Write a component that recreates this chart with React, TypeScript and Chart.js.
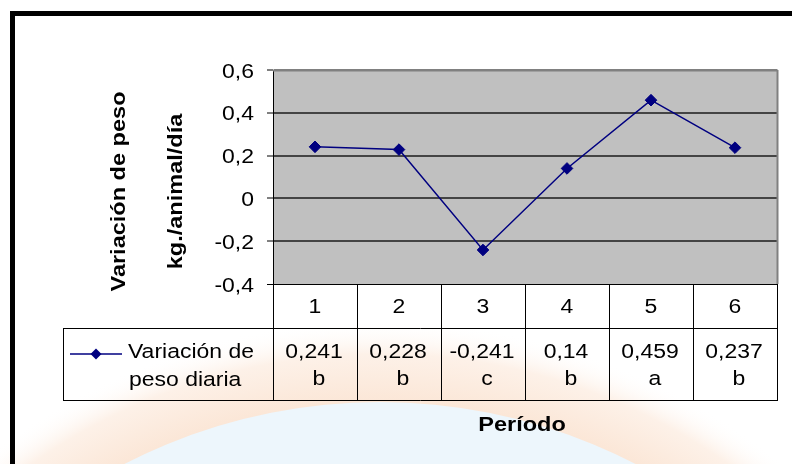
import React, { useEffect, useRef } from 'react';
import { Chart, registerables } from 'chart.js';

Chart.register(...registerables);

// ---- data ----
const periods = ['1', '2', '3', '4', '5', '6'];
const dailyWeightChange = [0.241, 0.228, -0.241, 0.14, 0.459, 0.237];
const significanceLetters = ['b', 'b', 'c', 'b', 'a', 'b'];
const yMin = -0.4;
const yMax = 0.6;
const yStep = 0.2;
const seriesLabelLines = ['Variación de', 'peso diaria'];
const yTitleLines = ['Variación de peso', 'kg./animal/día'];
const xTitle = 'Período';

const NAVY = '#000080';
const FONT = '"Liberation Sans", Arial, sans-serif';
const SX = 1.12; // horizontal glyph stretch seen in the reference

const fmtValue = (v: number) => String(v).replace('.', ',');
const fmtTick = (v: number) => (Math.abs(v) < 1e-9 ? '0' : v.toFixed(1).replace('.', ','));

function drawText(
  ctx: CanvasRenderingContext2D,
  text: string,
  x: number,
  y: number,
  opts: { size?: number; bold?: boolean; align?: CanvasTextAlign; rotate?: number; color?: string } = {}
) {
  const { size = 20.5, bold = false, align = 'center', rotate = 0, color = '#000' } = opts;
  ctx.save();
  ctx.translate(x, y);
  if (rotate) ctx.rotate(rotate);
  ctx.scale(SX, 1);
  ctx.font = `${bold ? 'bold ' : ''}${size}px ${FONT}`;
  ctx.textAlign = align;
  ctx.textBaseline = 'alphabetic';
  ctx.fillStyle = color;
  ctx.fillText(text, 0, 0);
  ctx.restore();
}

const backgroundPlugin = {
  id: 'bgPlugin',
  beforeDraw(chart: any) {
    const { ctx, width, height, chartArea } = chart;
    ctx.save();
    ctx.fillStyle = '#ffffff';
    ctx.fillRect(0, 0, width, height);
    // faint watermark seal
    const cx = 380;
    const cy = 960;
    const g = ctx.createRadialGradient(cx, cy, 555, cx, cy, 640);
    g.addColorStop(0, '#fbe6d6');
    g.addColorStop(0.6, '#fdf1e8');
    g.addColorStop(1, 'rgba(255,255,255,0)');
    ctx.beginPath();
    ctx.arc(cx, cy, 640, 0, Math.PI * 2);
    ctx.fillStyle = g;
    ctx.fill();
    ctx.beginPath();
    ctx.arc(cx, cy, 558, 0, Math.PI * 2);
    ctx.fillStyle = '#edf6fc';
    ctx.fill();
    // outer frame
    ctx.fillStyle = '#000';
    ctx.fillRect(10, 11, 5, height);
    ctx.fillRect(10, 11, width, 5);
    // plot background
    ctx.fillStyle = '#c0c0c0';
    ctx.fillRect(chartArea.left, chartArea.top, chartArea.right - chartArea.left, chartArea.bottom - chartArea.top);
    ctx.restore();
  },
};

const tablePlugin = {
  id: 'tablePlugin',
  afterDraw(chart: any) {
    const { ctx, chartArea } = chart;
    const xs = chart.scales.x;
    const ys = chart.scales.y;
    const left = chartArea.left;
    const right = chartArea.right;
    const colW = (right - left) / periods.length;
    const headTop = chartArea.bottom;
    const rowTop = headTop + 44;
    const rowBottom = headTop + 116;
    const legendLeft = 63;

    ctx.save();
    // plot border (top & right)
    ctx.strokeStyle = '#808080';
    ctx.lineWidth = 2;
    ctx.beginPath();
    ctx.moveTo(left, chartArea.top + 0.5);
    ctx.lineTo(right + 1, chartArea.top + 0.5);
    ctx.moveTo(right + 0.5, chartArea.top);
    ctx.lineTo(right + 0.5, headTop);
    ctx.stroke();

    // y tick labels
    ys.ticks.forEach((t: any) => {
      const y = ys.getPixelForValue(t.value);
      drawText(ctx, fmtTick(t.value), left - 19, y + 7.5, { align: 'right' });
    });

    // table grid lines
    ctx.strokeStyle = '#000';
    ctx.lineWidth = 1;
    ctx.beginPath();
    for (let i = 0; i <= periods.length; i++) {
      const x = Math.round(left + i * colW) + 0.5;
      ctx.moveTo(x, headTop);
      ctx.lineTo(x, rowBottom);
    }
    ctx.moveTo(legendLeft, rowTop + 0.5);
    ctx.lineTo(right + 1, rowTop + 0.5);
    ctx.moveTo(legendLeft, rowBottom + 0.5);
    ctx.lineTo(right + 1, rowBottom + 0.5);
    ctx.moveTo(legendLeft + 0.5, rowTop);
    ctx.lineTo(legendLeft + 0.5, rowBottom);
    ctx.stroke();

    // header labels & values
    periods.forEach((p, i) => {
      const cx = xs.getPixelForValue(i);
      drawText(ctx, p, cx, headTop + 28.5);
      drawText(ctx, fmtValue(dailyWeightChange[i]), cx - 1, rowTop + 29.5);
      drawText(ctx, significanceLetters[i], cx + 4, rowTop + 57);
    });

    // legend key
    const ly = rowTop + 26;
    ctx.strokeStyle = NAVY;
    ctx.lineWidth = 1.5;
    ctx.beginPath();
    ctx.moveTo(70, ly);
    ctx.lineTo(122, ly);
    ctx.stroke();
    const dx = 96;
    const r = 5.5;
    ctx.fillStyle = NAVY;
    ctx.beginPath();
    ctx.moveTo(dx, ly - r);
    ctx.lineTo(dx + r, ly);
    ctx.lineTo(dx, ly + r);
    ctx.lineTo(dx - r, ly);
    ctx.closePath();
    ctx.fill();
    drawText(ctx, seriesLabelLines[0], 128, rowTop + 29.5, { align: 'left' });
    drawText(ctx, seriesLabelLines[1], 129, rowTop + 58, { align: 'left' });

    // axis titles
    drawText(ctx, xTitle, (left + right) / 2 - 3, rowBottom + 31, { bold: true, size: 21 });
    const midY = (chartArea.top + chartArea.bottom) / 2 + 14.5;
    drawText(ctx, yTitleLines[0], 125, midY, { bold: true, size: 21, rotate: -Math.PI / 2 });
    drawText(ctx, yTitleLines[1], 181.5, midY, { bold: true, size: 21, rotate: -Math.PI / 2 });
    ctx.restore();
  },
};

export default function App() {
  const ref = useRef<HTMLCanvasElement | null>(null);

  useEffect(() => {
    if (!ref.current) return;
    const near = (a: number, b: number) => Math.abs(a - b) < 1e-6;
    const chart = new Chart(ref.current, {
      type: 'line',
      data: {
        labels: periods,
        datasets: [
          {
            label: seriesLabelLines.join(' '),
            data: dailyWeightChange,
            borderColor: NAVY,
            backgroundColor: NAVY,
            borderWidth: 1.5,
            tension: 0,
            fill: false,
            pointStyle: 'rectRot',
            pointRadius: 5.8,
            pointBorderWidth: 1,
            pointBackgroundColor: NAVY,
            pointBorderColor: NAVY,
          },
        ],
      },
      options: {
        responsive: false,
        animation: false,
        devicePixelRatio: 1,
        layout: { padding: { top: 70, right: 15, bottom: 180, left: 0 } },
        plugins: {
          legend: { display: false },
          tooltip: { enabled: false },
          title: { display: false },
        },
        scales: {
          x: {
            type: 'category',
            display: false,
            offset: true,
          },
          y: {
            min: yMin,
            max: yMax,
            afterFit: (s: any) => {
              s.width = 273;
            },
            ticks: { stepSize: yStep, display: false },
            border: { display: true, color: '#000', width: 1 },
            grid: {
              drawTicks: true,
              tickLength: 6,
              tickColor: '#000',
              tickWidth: 1,
              color: (c: any) =>
                near(c.tick.value, yMax) ? '#808080' : near(c.tick.value, yMin) ? '#000' : '#444444',
              lineWidth: (c: any) => (near(c.tick.value, yMin) ? 1 : 2),
            },
          },
        },
      },
      plugins: [backgroundPlugin, tablePlugin],
    } as any);
    return () => chart.destroy();
  }, []);

  return (
    <div style={{ position: 'fixed', left: 0, top: 0, width: 792, height: 464, background: '#fff' }}>
      <canvas ref={ref} width={792} height={464} style={{ display: 'block', width: 792, height: 464 }} />
    </div>
  );
}
